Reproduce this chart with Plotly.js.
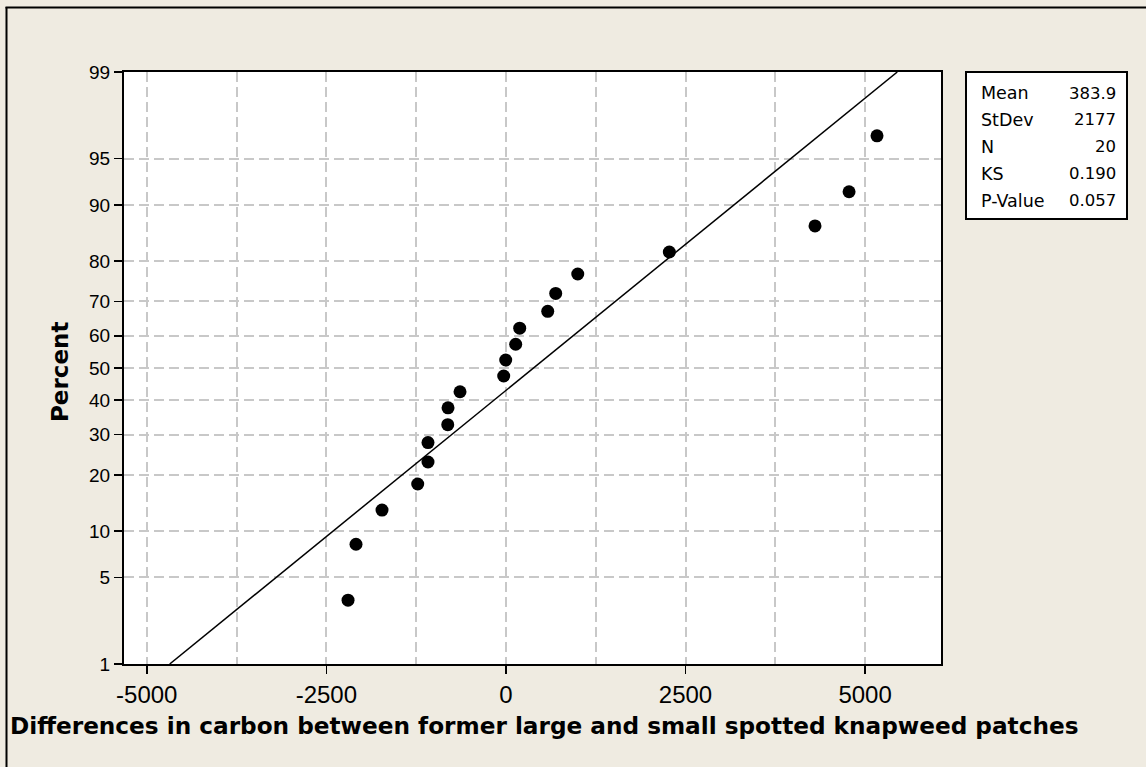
<!DOCTYPE html>
<html>
<head>
<meta charset="utf-8">
<script src="https://cdn.plot.ly/plotly-3.0.1.min.js"></script>
<style>
  html, body { margin: 0; padding: 0; background: #EFEBE1; }
  #chart { width: 1146px; height: 767px; }
</style>
</head>
<body>
<div id="chart"></div>
<script>
// ---- Data ----
const carbonDiff = [-2198, -2087, -1725, -1228, -1085, -1085, -810, -806, -639, -31,
                    -3, 136, 192, 582, 693, 1000, 2275, 4303, 4777, 5166];
const percentVals = [3.4, 8.3, 13.2, 18.1, 23.0, 27.9, 32.8, 37.7, 42.6, 47.5,
                     52.5, 57.4, 62.3, 67.2, 72.1, 77.0, 81.9, 86.8, 91.7, 96.6];
const percentTicks = [1, 5, 10, 20, 30, 40, 50, 60, 70, 80, 90, 95, 99];
const xTicks = [-5000, -2500, 0, 2500, 5000];
const statLabels = ["Mean", "StDev", "N", "KS", "P-Value"];
const statValues = ["383.9", "2177", "20", "0.190", "0.057"];
const fitMean = 383.9;
const fitStDev = 2177;
const xTitle = "Differences in carbon between former large and small spotted knapweed patches";
const yTitle = "Percent";

// ---- Normal probability scale (inverse normal CDF, Acklam) ----
function probit(p) {
  const a = [-3.969683028665376e+01, 2.209460984245205e+02, -2.759285104469687e+02,
             1.383577518672690e+02, -3.066479806614716e+01, 2.506628277459239e+00];
  const b = [-5.447609879822406e+01, 1.615858368580409e+02, -1.556989798598866e+02,
             6.680131188771972e+01, -1.328068155288572e+01];
  const c = [-7.784894002430293e-03, -3.223964580411365e-01, -2.400758277161838e+00,
             -2.549732539343734e+00, 4.374664141464968e+00, 2.938163982698783e+00];
  const d = [7.784695709041462e-03, 3.224671290700398e-01, 2.445134137142996e+00,
             3.754408661907416e+00];
  const pl = 0.02425, ph = 1 - pl;
  let q, r;
  if (p < pl) {
    q = Math.sqrt(-2 * Math.log(p));
    return (((((c[0]*q+c[1])*q+c[2])*q+c[3])*q+c[4])*q+c[5]) /
           ((((d[0]*q+d[1])*q+d[2])*q+d[3])*q+1);
  } else if (p <= ph) {
    q = p - 0.5; r = q*q;
    return (((((a[0]*r+a[1])*r+a[2])*r+a[3])*r+a[4])*r+a[5])*q /
           (((((b[0]*r+b[1])*r+b[2])*r+b[3])*r+b[4])*r+1);
  } else {
    q = Math.sqrt(-2 * Math.log(1 - p));
    return -(((((c[0]*q+c[1])*q+c[2])*q+c[3])*q+c[4])*q+c[5]) /
             ((((d[0]*q+d[1])*q+d[2])*q+d[3])*q+1);
  }
}
const zOf = pc => probit(pc / 100);

const yLo = zOf(percentTicks[0]);
const yHi = zOf(percentTicks[percentTicks.length - 1]);
const fitZ = [yLo, yHi];
const fitX = fitZ.map(z => fitMean + fitStDev * z);

const FONT = "'Liberation Sans', Arial, sans-serif";
const TFONT = "'DejaVu Sans', Verdana, sans-serif";
const gridStyle = { color: "#c8c8c8", width: 2, dash: "10px,5px" };

const traces = [
  {
    type: "scatter", mode: "lines",
    x: fitX, y: fitZ,
    line: { color: "#000000", width: 1.5 },
    hoverinfo: "skip", showlegend: false
  },
  {
    type: "scatter", mode: "markers",
    x: carbonDiff, y: percentVals.map(zOf),
    marker: { color: "#000000", size: 13, line: { width: 0 } },
    showlegend: false
  }
];

// Paper-coordinate helpers for placement outside the plot area
const plotL = 124, plotR = 941, plotT = 72, plotB = 664;
const px = v => (v - plotL) / (plotR - plotL);
const py = v => (plotB - v) / (plotB - plotT);

const annotations = [];
statLabels.forEach((lab, i) => {
  const yc = py(93 + i * 27);
  annotations.push({ xref: "paper", yref: "paper", x: px(979), y: yc, xanchor: "left", yanchor: "middle",
    text: lab, showarrow: false, font: { family: TFONT, size: 17.5, color: "#000" } });
  annotations.push({ xref: "paper", yref: "paper", x: px(1118), y: yc, xanchor: "right", yanchor: "middle",
    text: statValues[i], showarrow: false, font: { family: TFONT, size: 16.5, color: "#000" } });
});
annotations.push({ xref: "paper", yref: "paper", x: px(543.5), y: py(725), xanchor: "center", yanchor: "middle",
  text: xTitle, showarrow: false, font: { family: TFONT, size: 23.2, color: "#000", weight: "bold" } });
annotations.push({ xref: "paper", yref: "paper", x: px(60), y: py(372), xanchor: "center", yanchor: "middle",
  text: yTitle, textangle: -90, showarrow: false, font: { family: TFONT, size: 23, color: "#000", weight: "bold" } });

const shapes = [
  { type: "rect", xref: "paper", yref: "paper", x0: px(966), x1: px(1127), y0: py(219), y1: py(72),
    line: { color: "#000", width: 2 }, fillcolor: "#ffffff", layer: "below" },
  { type: "line", xref: "paper", yref: "paper", x0: px(6.5), x1: px(6.5), y0: py(7), y1: py(800),
    line: { color: "#000", width: 2 } },
  { type: "line", xref: "paper", yref: "paper", x0: px(5.5), x1: px(1200), y0: py(7.5), y1: py(7.5),
    line: { color: "#000", width: 2 } }
];

const layout = {
  width: 1146, height: 767,
  paper_bgcolor: "#EFEBE1",
  plot_bgcolor: "#ffffff",
  margin: { l: plotL, r: 1146 - plotR, t: plotT, b: 767 - plotB, pad: 0 },
  showlegend: false,
  font: { family: FONT, color: "#000" },
  xaxis: {
    range: [-5317, 6057],
    tickmode: "array", tickvals: xTicks, ticktext: xTicks.map(String),
    ticks: "outside", ticklen: 8, tickwidth: 1.5, tickcolor: "#000",
    tickfont: { family: FONT, size: 24, color: "#000" },
    showgrid: true, gridcolor: gridStyle.color, gridwidth: gridStyle.width, griddash: gridStyle.dash,
    minor: { tickmode: "linear", tick0: -5000, dtick: 1250, showgrid: true,
             gridcolor: gridStyle.color, gridwidth: gridStyle.width, griddash: gridStyle.dash, ticks: "" },
    zeroline: false,
    showline: true, linecolor: "#000", linewidth: 2, mirror: true,
    automargin: false
  },
  yaxis: {
    range: [yLo, yHi],
    tickmode: "array", tickvals: percentTicks.map(zOf), ticktext: percentTicks.map(String),
    ticks: "outside", ticklen: 8, tickwidth: 1.5, tickcolor: "#000",
    tickfont: { family: FONT, size: 19, color: "#000" },
    showgrid: true, gridcolor: gridStyle.color, gridwidth: gridStyle.width, griddash: gridStyle.dash,
    zeroline: false,
    showline: true, linecolor: "#000", linewidth: 2, mirror: true,
    automargin: false
  },
  shapes: shapes,
  annotations: annotations
};

Plotly.newPlot("chart", traces, layout, { displayModeBar: false, staticPlot: true });
</script>
</body>
</html>
